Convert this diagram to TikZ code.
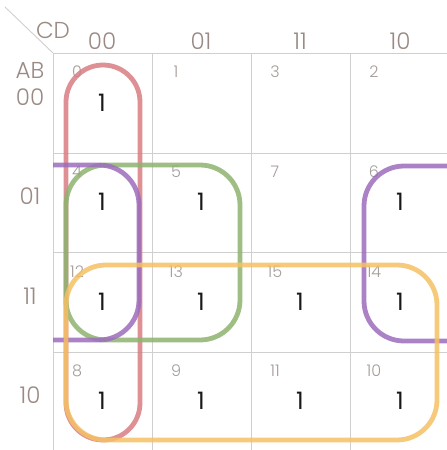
\documentclass[tikz,border=0pt]{standalone}
\usepackage{fontspec}
\setmainfont{Poppins}[UprightFont=* Light]
\newfontfamily\onefont{Poppins}
\definecolor{labgray}{HTML}{9A8A84}
\definecolor{idxgray}{HTML}{A39C98}
\definecolor{gridgray}{HTML}{CFCFCF}
\definecolor{loopred}{HTML}{D87D82}
\definecolor{loopgreen}{HTML}{8DB36F}
\definecolor{looppurple}{HTML}{9C6CBC}
\definecolor{looporange}{HTML}{F4C064}
\begin{document}
\begin{tikzpicture}[
    x=1pt, y=-1pt,
    gridline/.style={draw=gridgray, line width=0.9pt},
    lab/.style={text=labgray, font=\fontsize{23}{23}\selectfont},
    idx/.style={text=idxgray, font=\fontsize{16}{16}\selectfont},
    one/.style={text=black!90, font=\onefont\fontsize{24}{24}\selectfont},
    grp/.style={line width=4.8pt, opacity=0.85, rounded corners=40pt}
]
\useasboundingbox (0,0) rectangle (447,450);
% grid
\draw[gridline] (5,7) -- (53,53);
\draw[gridline] (53,53) -- (450,53);
\draw[gridline] (53,153) -- (450,153);
\draw[gridline] (53,252) -- (450,252);
\draw[gridline] (53,352) -- (450,352);
\draw[gridline] (53,53) -- (53,450);
\draw[gridline] (152,53) -- (152,450);
\draw[gridline] (251,53) -- (251,450);
\draw[gridline] (350,53) -- (350,450);
% labels
\node[lab] (cd) at (53,30) {CD};
\node[lab] (ab) at (30,70) {AB};
\node[lab] (c00) at (102,41) {00};
\node[lab] (c01) at (201,41) {01};
\node[lab] (c11) at (300,41) {11};
\node[lab] (c10) at (400,41) {10};
\node[lab] (r00) at (30,97) {00};
\node[lab] (r01) at (30,196) {01};
\node[lab] (r11) at (30,296) {11};
\node[lab] (r10) at (30,395) {10};
% cell numbers
\node[idx] (i0) at (77,72) {0};
\node[idx] (i1) at (176,72) {1};
\node[idx] (i3) at (275,72) {3};
\node[idx] (i2) at (374,72) {2};
\node[idx] (i4) at (77,172) {4};
\node[idx] (i5) at (176,172) {5};
\node[idx] (i7) at (275,172) {7};
\node[idx] (i6) at (374,172) {6};
\node[idx] (i12) at (77,272) {12};
\node[idx] (i13) at (176,272) {13};
\node[idx] (i15) at (275,272) {15};
\node[idx] (i14) at (374,272) {14};
\node[idx] (i8) at (77,371) {8};
\node[idx] (i9) at (176,371) {9};
\node[idx] (i11) at (275,371) {11};
\node[idx] (i10) at (374,371) {10};
% ones
\node[one] (v0) at (102,103) {1};
\node[one] (v4) at (102,202) {1};
\node[one] (v5) at (201,202) {1};
\node[one] (v6) at (400,202) {1};
\node[one] (v12) at (102,302) {1};
\node[one] (v13) at (201,302) {1};
\node[one] (v15) at (300,302) {1};
\node[one] (v14) at (400,302) {1};
\node[one] (v8) at (102,401) {1};
\node[one] (v9) at (201,401) {1};
\node[one] (v11) at (300,401) {1};
\node[one] (v10) at (400,401) {1};
% groups
\draw[grp, draw=loopred, rounded corners=37pt] (66,65) rectangle (140,440);
\draw[grp, draw=loopgreen] (66,165) rectangle (240,340);
\draw[grp, draw=looppurple] (53,165) -- (139,165) -- (139,340) -- (53,340);
\draw[grp, draw=looppurple] (450,166) -- (364,166) -- (364,341) -- (450,341);
\draw[grp, draw=looporange] (66,265) rectangle (437,440);
\end{tikzpicture}
\end{document}
